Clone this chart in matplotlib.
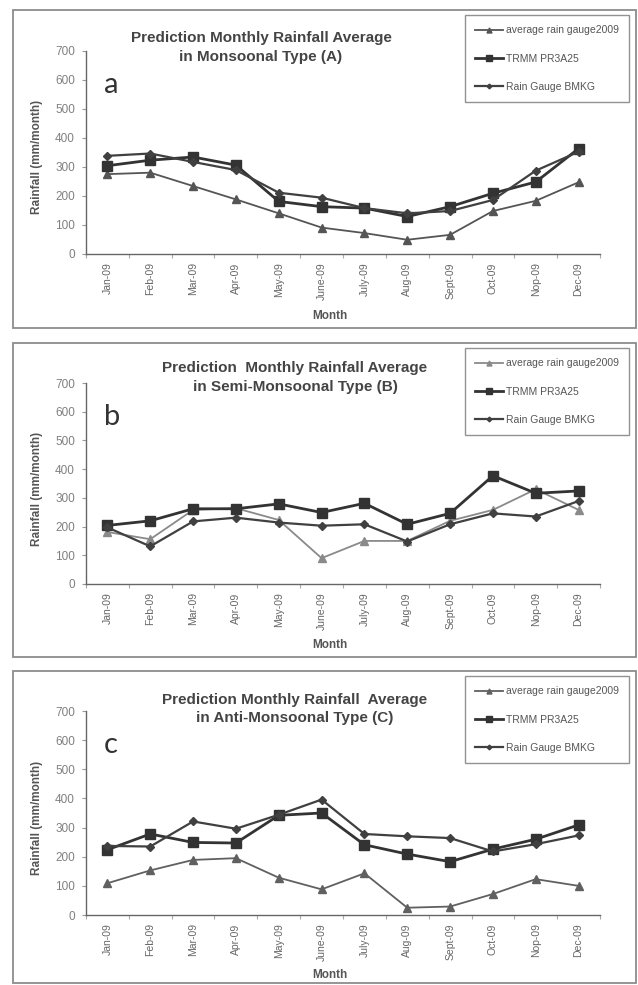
import matplotlib.pyplot as plt
from matplotlib.patches import Rectangle

plt.rcParams['font.family'] = ['Liberation Sans', 'DejaVu Sans']

months = ['Jan-09', 'Feb-09', 'Mar-09', 'Apr-09', 'May-09', 'June-09',
          'July-09', 'Aug-09', 'Sept-09', 'Oct-09', 'Nop-09', 'Dec-09']
yticks = [0, 100, 200, 300, 400, 500, 600, 700]
series_names = ['average rain gauge2009', 'TRMM PR3A25', 'Rain Gauge BMKG']

# (A) Monsoonal
a_gauge = [275, 280, 234, 188, 140, 91, 72, 49, 66, 148, 183, 247]
a_trmm = [304, 323, 334, 306, 181, 163, 158, 129, 163, 209, 248, 363]
a_bmkg = [338, 346, 317, 289, 211, 194, 158, 140, 148, 186, 287, 352]

# (B) Semi-Monsoonal
b_gauge = [181, 156, 258, 264, 223, 90, 150, 150, 220, 258, 330, 258]
b_trmm = [204, 220, 262, 262, 279, 249, 281, 208, 246, 377, 316, 324]
b_bmkg = [197, 131, 218, 231, 214, 203, 208, 148, 208, 246, 235, 289]

# (C) Anti-Monsoonal
c_gauge = [109, 153, 189, 195, 128, 88, 143, 25, 29, 72, 123, 100]
c_trmm = [224, 278, 249, 247, 342, 350, 241, 209, 183, 226, 260, 309]
c_bmkg = [237, 235, 321, 296, 344, 396, 278, 270, 264, 218, 243, 273]

W, H = 638, 985
fig = plt.figure(figsize=(W / 100, H / 100), dpi=100)


def fx(x):
    return x / W


def fy(y):
    return 1 - y / H


panels = [
    dict(frame=(13, 10, 636, 328), y0=254, y700=50.7, letter='a',
         title=['Prediction Monthly Rainfall Average', 'in Monsoonal Type (A)'],
         tx=261, ty=(38, 57), leg_top=15, month_y=316,
         data=(a_gauge, a_trmm, a_bmkg), gauge_color='#555555'),
    dict(frame=(13, 343, 636, 657), y0=584, y700=383, letter='b',
         title=['Prediction  Monthly Rainfall Average', 'in Semi-Monsoonal Type (B)'],
         tx=295, ty=(368, 387), leg_top=348, month_y=645,
         data=(b_gauge, b_trmm, b_bmkg), gauge_color='#8a8a8a'),
    dict(frame=(13, 671, 636, 983), y0=915, y700=711, letter='c',
         title=['Prediction Monthly Rainfall  Average', 'in Anti-Monsoonal Type (C)'],
         tx=295, ty=(700, 718), leg_top=676, month_y=975,
         data=(c_gauge, c_trmm, c_bmkg), gauge_color='#606060'),
]

x = list(range(len(months)))
ax_left, ax_right = 86, 600

for p in panels:
    l, t, r, b = p['frame']
    fig.patches.append(Rectangle((fx(l), fy(b)), fx(r - l), (b - t) / H,
                                 transform=fig.transFigure, fill=False,
                                 edgecolor='#8c8c8c', linewidth=1.3))

    ax = fig.add_axes([fx(ax_left), fy(p['y0']), fx(ax_right - ax_left),
                       (p['y0'] - p['y700']) / H])
    ax.patch.set_alpha(0)
    gauge, trmm, bmkg = p['data']
    ax.plot(x, gauge, color=p['gauge_color'], lw=1.3, marker='^', ms=6,
            label=series_names[0])
    ax.plot(x, trmm, color='#333333', lw=2.0, marker='s', ms=7,
            label=series_names[1])
    ax.plot(x, bmkg, color='#404040', lw=1.6, marker='D', ms=4,
            label=series_names[2])

    ax.set_xlim(-0.5, 11.5)
    ax.set_ylim(0, 700)
    ax.set_yticks(yticks)
    ax.tick_params(axis='y', labelsize=8.5, labelcolor='#808080', color='#999999',
                   length=3, width=0.8, pad=5)
    ax.set_xticks([i - 0.5 for i in range(13)])
    ax.set_xticklabels([])
    ax.set_xticks(x, minor=True)
    ax.set_xticklabels(months, minor=True, rotation=90, fontsize=7.5, color='#666666')
    ax.tick_params(axis='x', which='major', length=3, color='#aaaaaa', width=0.8)
    ax.tick_params(axis='x', which='minor', length=0, pad=6)
    for side in ['top', 'right']:
        ax.spines[side].set_visible(False)
    for side in ['left', 'bottom']:
        ax.spines[side].set_color('#666666')
        ax.spines[side].set_linewidth(1.0)

    fig.text(fx(37), fy((p['y0'] + p['y700']) / 2 + 5), 'Rainfall (mm/month)',
             fontsize=8.5, fontweight='bold', color='#555555', rotation=90,
             ha='center', va='center')
    fig.text(fx(330), fy(p['month_y']), 'Month', fontsize=8.5, fontweight='bold',
             color='#555555', ha='center', va='center')

    for line, yy in zip(p['title'], p['ty']):
        fig.text(fx(p['tx']), fy(yy), line, fontsize=11, fontweight='bold',
                 color='#444444', ha='center', va='center')

    fig.text(fx(104), fy(p['y700'] + 34), p['letter'], fontsize=21,
             family=['Lato', 'DejaVu Sans'], color='#333333', ha='left', va='center')

    leg = ax.legend(loc='upper left', bbox_to_anchor=(fx(465), fy(p['leg_top'])),
                    bbox_transform=fig.transFigure, fontsize=7.5, frameon=True,
                    fancybox=False, edgecolor='#777777', handlelength=2.6,
                    handletextpad=0.3, labelspacing=1.75, borderpad=1.0,
                    borderaxespad=0, markerscale=0.6)
    leg.get_frame().set_linewidth(1.0)
    for txt in leg.get_texts():
        txt.set_color('#555555')

fig.savefig('out.png', dpi=100)
